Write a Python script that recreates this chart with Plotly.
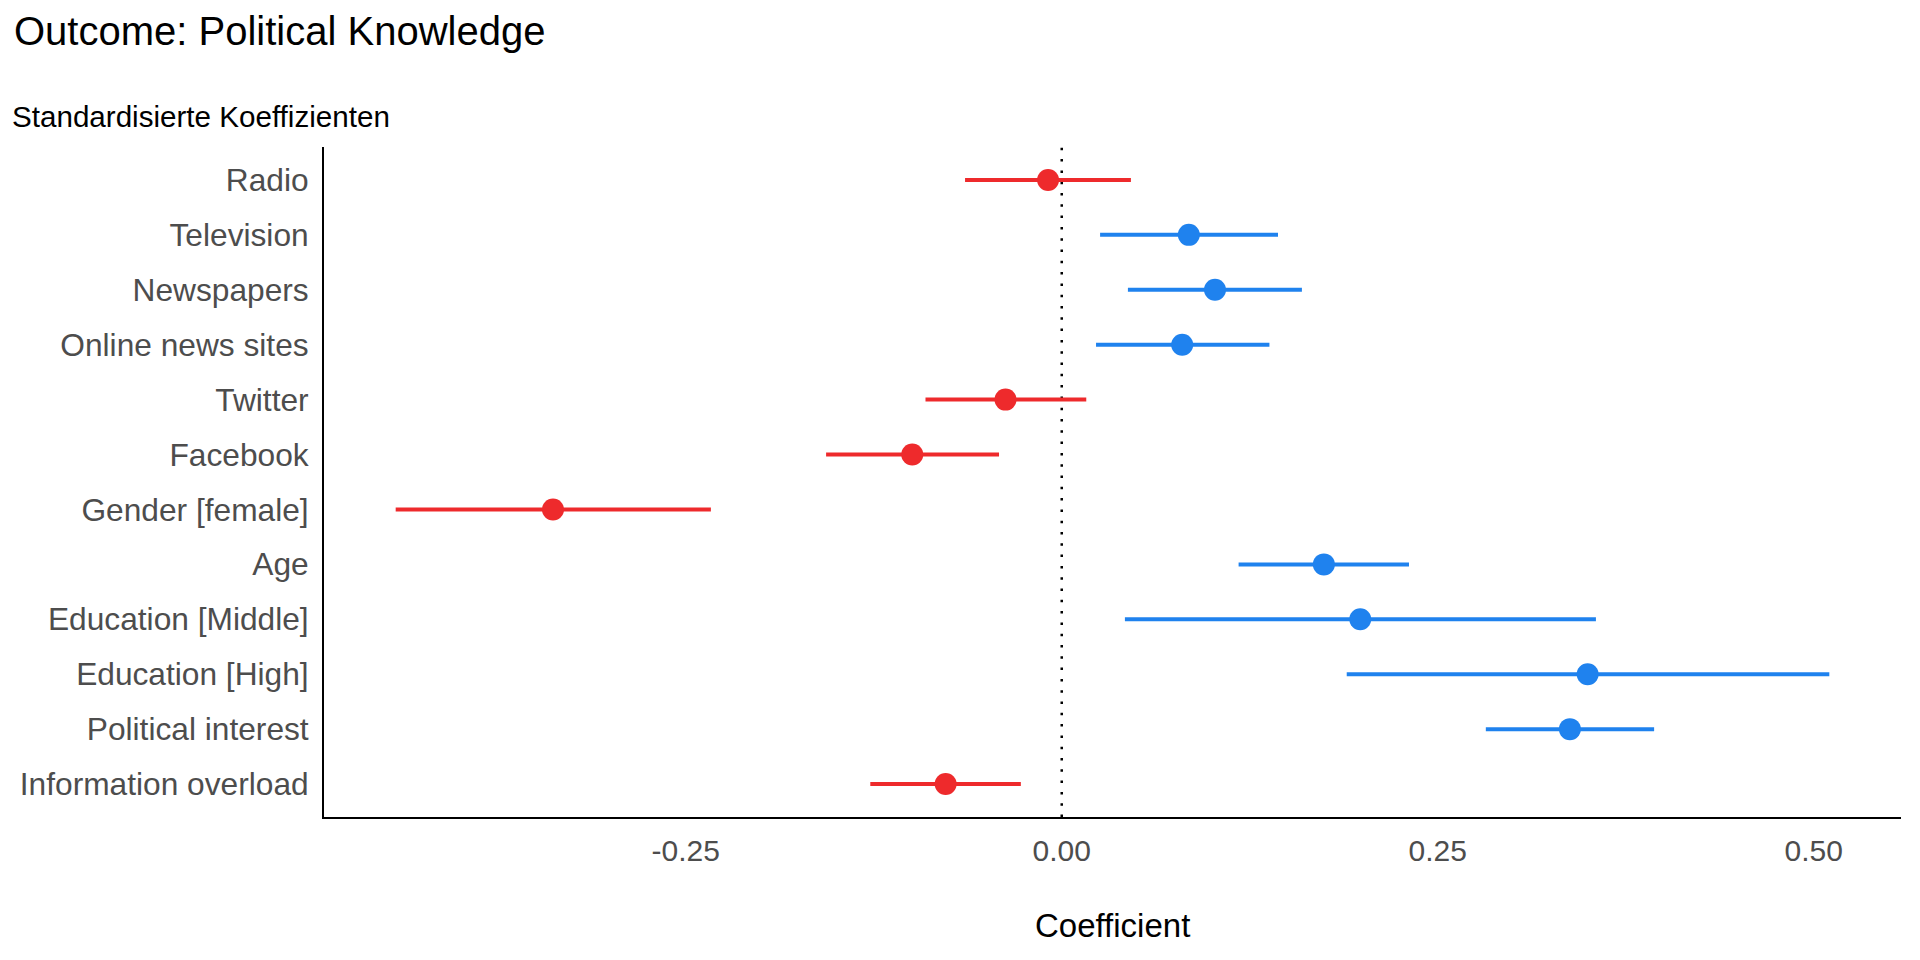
import plotly.graph_objects as go

# ---- data ----
terms = ["Radio", "Television", "Newspapers", "Online news sites", "Twitter",
         "Facebook", "Gender [female]", "Age", "Education [Middle]",
         "Education [High]", "Political interest", "Information overload"]
estimate = [-0.0091, 0.0845, 0.1019, 0.0801, -0.0374, -0.0994, -0.3383,
            0.1743, 0.1985, 0.3497, 0.3379, -0.0772]
conf_low = [-0.0643, 0.0255, 0.0440, 0.0228, -0.0906, -0.1567, -0.4429,
            0.1176, 0.0420, 0.1895, 0.2820, -0.1273]
conf_high = [0.0460, 0.1438, 0.1597, 0.1381, 0.0163, -0.0417, -0.2333,
             0.2309, 0.3552, 0.5104, 0.3939, -0.0272]
x_ticks = [-0.25, 0.00, 0.25, 0.50]
x_tick_labels = ["-0.25", "0.00", "0.25", "0.50"]

RED = "#EE2A2C"
BLUE = "#1F82EE"
FONT = "Liberation Sans, Arial, Helvetica, sans-serif"

fig = go.Figure()
for positive, color in [(False, RED), (True, BLUE)]:
    idx = [i for i, e in enumerate(estimate) if (e > 0) == positive]
    fig.add_trace(go.Scatter(
        x=[estimate[i] for i in idx],
        y=[terms[i] for i in idx],
        mode="markers",
        marker=dict(color=color, size=22, line=dict(width=0)),
        error_x=dict(type="data", symmetric=False,
                     array=[conf_high[i] - estimate[i] for i in idx],
                     arrayminus=[estimate[i] - conf_low[i] for i in idx],
                     color=color, thickness=4, width=0),
        showlegend=False,
        hoverinfo="x+y",
    ))

lo_all, hi_all = min(conf_low), max(conf_high)
pad = (hi_all - lo_all) * 0.05
n = len(terms)

fig.add_shape(type="line", xref="x", yref="paper", x0=0, x1=0, y0=0, y1=1,
              line=dict(color="black", width=2.5, dash="2.5px,8.8px"), layer="below")

# page body has an 8px margin; plot area: 1586 x 670 px
L, R, T, B = 307, 19, 139, 143
W, H = 1912, 952
PW, PH = W - L - R, H - T - B


def px_x(x):
    return (x - L) / PW


def px_y(y):
    return (H - B - y) / PH


fig.update_layout(
    width=W, height=H,
    margin=dict(l=L, r=R, t=T, b=B),
    plot_bgcolor="white", paper_bgcolor="white",
    font=dict(family=FONT, color="black"),
    title=dict(text="Outcome: Political Knowledge", xref="container",
               yref="container", x=0, xanchor="left", y=1 - 23 / H,
               yanchor="middle", pad=dict(l=6, t=0, b=0, r=0),
               font=dict(size=40, color="black", family=FONT)),
    xaxis=dict(range=[lo_all - pad, hi_all + pad], tickvals=x_ticks,
               ticktext=x_tick_labels, showgrid=False, zeroline=False,
               showline=True, linecolor="black", linewidth=2,
               ticks="", ticklabelstandoff=6,
               tickfont=dict(size=30, color="#4D4D4D", family=FONT)),
    yaxis=dict(type="category", categoryorder="array", categoryarray=terms,
               range=[n - 1 + 0.6, -0.6], showgrid=False, zeroline=False,
               showline=True, linecolor="black", linewidth=2,
               ticks="", ticklabelstandoff=7,
               tickfont=dict(size=31.7, color="#4D4D4D", family=FONT)),
    annotations=[
        dict(text="Standardisierte Koeffizienten", xref="paper", yref="paper",
             x=px_x(374), y=px_y(108), xanchor="right",
             yanchor="middle", showarrow=False, borderpad=0,
             font=dict(size=29.6, color="black", family=FONT)),
        dict(text="Coefficient", xref="paper", yref="paper",
             x=0.5, y=px_y(917), xanchor="center",
             yanchor="middle", showarrow=False,
             font=dict(size=33, color="black", family=FONT)),
    ],
)

fig.write_html("out.html")
